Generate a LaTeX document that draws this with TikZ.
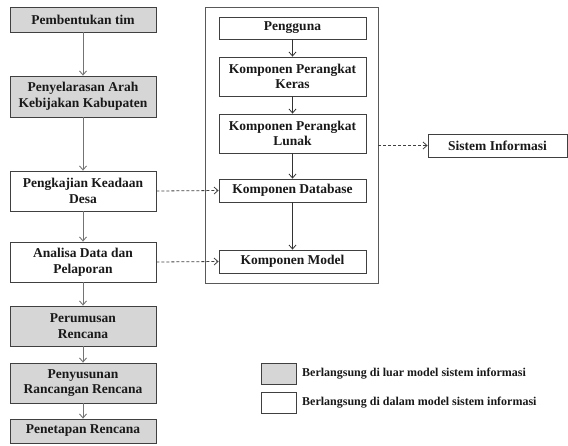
\documentclass[tikz,border=0pt]{standalone}
\usepackage{fontspec}
\setmainfont{Liberation Serif}
\usetikzlibrary{arrows.meta}
\begin{document}
\begin{tikzpicture}[x=1pt,y=-1pt,
  every node/.style={font=\fontsize{13.5}{15.7}\selectfont\bfseries, align=center, inner sep=0pt},
  box/.style={draw=black!75, line width=0.8pt, minimum width=146pt, text=black!90},
  outbox/.style={box, fill=black!16},
  inbox/.style={box, fill=white},
  flow/.style={draw=black!55, line width=0.9pt, -{Straight Barb[length=4pt,width=7pt]}},
  iflow/.style={draw=black!80, line width=0.8pt, -{Straight Barb[length=4pt,width=7pt]}},
  dflow/.style={draw=black!75, line width=0.8pt, dash pattern=on 3pt off 2pt, -{Straight Barb[length=4pt,width=7pt]}},
  legtext/.style={font=\fontsize{12}{14}\selectfont\bfseries, anchor=west, text=black!90}
]
\useasboundingbox (0,0) rectangle (568,445);
% left column
\node[outbox, minimum height=25pt] (tim) at (83,19.5) {Pembentukan tim};
\node[outbox, minimum height=41pt] (arah) at (83,96.5) {Penyelarasan Arah\\Kebijakan Kabupaten};
\node[inbox, minimum height=40pt] (desa) at (83,191) {Pengkajian Keadaan\\Desa};
\node[inbox, minimum height=40pt] (analisa) at (83,262) {Analisa Data dan\\Pelaporan};
\node[outbox, minimum height=40pt] (rumus) at (83,326) {Perumusan\\Rencana};
\node[outbox, minimum height=40pt] (susun) at (83,383) {Penyusunan\\Rancangan Rencana};
\node[outbox, minimum height=24pt] (tetap) at (83,431) {Penetapan Rencana};
\draw[flow] (tim) -- (arah);
\draw[flow] (arah) -- (desa);
\draw[flow] (desa) -- (analisa);
\draw[flow] (analisa) -- (rumus);
\draw[flow] (rumus) -- (susun);
\draw[flow] (susun) -- (tetap);
% container
\node[draw=black!65, line width=0.9pt, minimum width=173pt, minimum height=276pt] (sys) at (291.5,145) {};
\node[inbox, minimum width=147pt, minimum height=22pt] (user) at (292.5,28) {Pengguna};
\node[inbox, minimum width=147pt, minimum height=39pt] (keras) at (292.5,76.5) {Komponen Perangkat\\Keras};
\node[inbox, minimum width=147pt, minimum height=39pt] (lunak) at (292.5,133.5) {Komponen Perangkat\\Lunak};
\node[inbox, minimum width=147pt, minimum height=23pt] (db) at (292.5,190.5) {Komponen Database};
\node[inbox, minimum width=147pt, minimum height=23pt] (model) at (292.5,261.5) {Komponen Model};
\draw[iflow] (user) -- (keras);
\draw[iflow] (keras) -- (lunak);
\draw[iflow] (lunak) -- (db);
\draw[iflow] (db) -- (model);
\node[inbox, minimum width=139pt, minimum height=23pt] (si) at (497.5,145.5) {Sistem Informasi};
\draw[dflow] (sys.east |- si) -- (si.west);
\draw[dflow] (desa.east) -- (db.west);
\draw[dflow] (analisa.east) -- (model.west);
% legend
\node[outbox, minimum width=35pt, minimum height=21pt] (lg1) at (278.5,373.5) {};
\node[inbox, minimum width=35pt, minimum height=21pt] (lg2) at (278.5,402.5) {};
\node[legtext] (lt1) at (302,373.5) {Berlangsung di luar model sistem informasi};
\node[legtext] (lt2) at (302,402.5) {Berlangsung di dalam model sistem informasi};
\end{tikzpicture}
\end{document}
